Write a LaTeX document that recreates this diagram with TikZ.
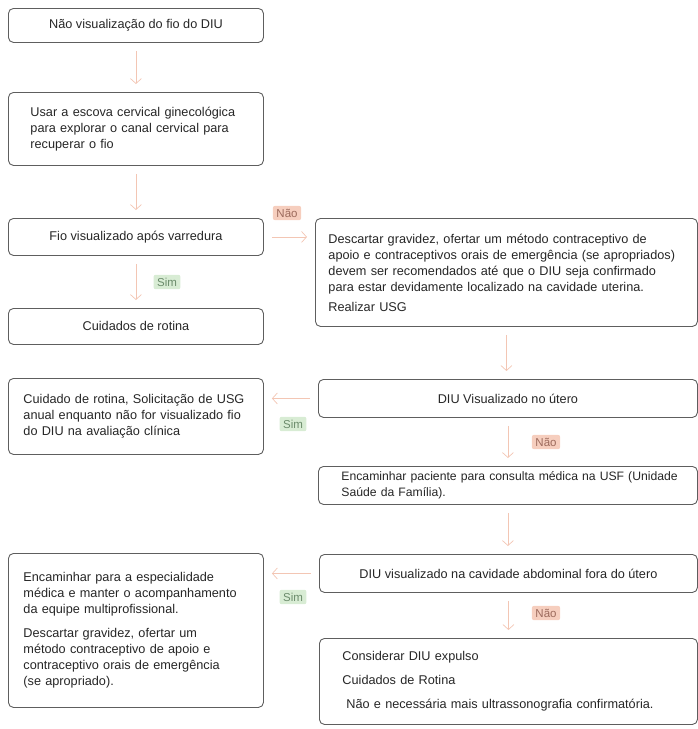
\documentclass[tikz,border=0pt]{standalone}
\usepackage{fontspec}
\setmainfont{Liberation Sans}
\usetikzlibrary{arrows.meta, calc, positioning}
\definecolor{boxc}{HTML}{5E5E5E}
\definecolor{textc}{HTML}{262626}
\definecolor{arrowc}{HTML}{F3C6B4}
\definecolor{naobg}{HTML}{F6CEBE}
\definecolor{naotx}{HTML}{9C6A5C}
\definecolor{simbg}{HTML}{D8ECD4}
\definecolor{simtx}{HTML}{6C8C6C}
\tikzset{
  box/.style={draw=boxc, line width=0.9pt, rounded corners=5pt, anchor=north west,
    text=textc, font=\fontsize{12.7}{16}\selectfont, inner ysep=4pt},
  cbox/.style={box, align=center},
  lbox/.style={box, align=left, inner xsep=4pt},
  arr/.style={draw=arrowc, line width=0.7pt, -{Straight Barb[length=5pt,width=11pt]},
    shorten <=8pt, shorten >=8pt},
  nao/.style={fill=naobg, text=naotx, rounded corners=2pt, inner xsep=3.5pt, inner ysep=3pt,
    font=\fontsize{11.5}{13}\selectfont},
  sim/.style={fill=simbg, text=simtx, rounded corners=2pt, inner xsep=3.5pt, inner ysep=3pt,
    font=\fontsize{11.5}{13}\selectfont}
}
\newcommand{\ind}[1]{\hspace*{#1pt}}
\begin{document}
\begin{tikzpicture}[x=1pt, y=-1pt]
\useasboundingbox (0,0) rectangle (698,729);

% left column
\node[cbox, minimum width=255pt, minimum height=34pt] (naofio) at (8,8)
  {N\~ao visualiza\c{c}\~ao do fio do DIU};
\node[lbox, minimum width=255pt, minimum height=73pt, text width=247pt] (escova) at (8,92)
  {\ind{18}Usar a escova cervical ginecol\'ogica\\\ind{18}para explorar o canal cervical para\\\ind{18}recuperar o fio};
\node[cbox, minimum width=255pt, minimum height=37pt] (varredura) at (8,218)
  {Fio visualizado ap\'os varredura};
\node[cbox, minimum width=255pt, minimum height=36pt] (rotina) at (8,308)
  {Cuidados de rotina};
\node[lbox, minimum width=255pt, minimum height=76pt, text width=247pt] (usganual) at (8,378)
  {\ind{11}Cuidado de rotina, Solicita\c{c}\~ao de USG\\\ind{11}anual enquanto n\~ao for visualizado fio\\\ind{11}do DIU na avalia\c{c}\~ao cl\'inica};
\node[lbox, minimum width=255pt, minimum height=154pt, text width=247pt] (especialidade) at (8,553)
  {\ind{11}Encaminhar para a especialidade\\\ind{11}m\'edica e manter o acompanhamento\\\ind{11}da equipe multiprofissional.\\[8pt]
   \ind{11}Descartar gravidez, ofertar um\\\ind{11}m\'etodo contraceptivo de apoio e\\\ind{11}contraceptivo orais de emerg\^encia\\\ind{11}(se apropriado).};

% right column
\node[lbox, minimum width=382pt, minimum height=108pt, text width=374pt] (descartar) at (315,218)
  {\ind{9}Descartar gravidez, ofertar um m\'etodo contraceptivo de\\\ind{9}apoio e contraceptivos orais de emerg\^encia (se apropriados)\\\ind{9}devem ser recomendados at\'e que o DIU seja confirmado\\\ind{9}para estar devidamente localizado na cavidade uterina.\\[4pt]
   \ind{9}Realizar USG};
\node[cbox, minimum width=379pt, minimum height=38pt] (utero) at (318,379)
  {DIU Visualizado no \'utero};
\node[lbox, minimum width=379pt, minimum height=38pt, text width=371pt,
      font=\fontsize{12.2}{16}\selectfont] (usf) at (318,466)
  {\ind{19}Encaminhar paciente para consulta m\'edica na USF (Unidade\\\ind{19}Sa\'ude da Fam\'ilia).};
\node[cbox, minimum width=378pt, minimum height=38pt] (abdominal) at (319,554)
  {DIU visualizado na cavidade abdominal fora do \'utero};
\node[lbox, minimum width=378pt, minimum height=86pt, text width=370pt] (expulso) at (319,638)
  {\ind{19}Considerar DIU expulso\\[8pt]\ind{19}Cuidados de Rotina\\[8pt]\ind{23}N\~ao e necess\'aria mais ultrassonografia confirmat\'oria.};

% connectors
\draw[arr] (naofio.south) -- (escova.north);
\draw[arr] (escova.south) -- (varredura.north);
\draw[arr] (varredura.south) -- (rotina.north);
\draw[arr] (varredura.east) -- (varredura.east -| descartar.west);
\draw[arr] (descartar.south) -- (descartar.south |- utero.north);
\draw[arr] (utero.west) -- (utero.west -| usganual.east);
\draw[arr] (utero.south) -- (utero.south |- usf.north);
\draw[arr] (usf.south) -- (usf.south |- abdominal.north);
\draw[arr] (abdominal.west) -- (abdominal.west -| especialidade.east);
\draw[arr] (abdominal.south) -- (abdominal.south |- expulso.north);

% labels
\node[nao] (nao1) at (287,213) {N\~ao};
\node[sim] (sim1) at (167,282) {Sim};
\node[sim] (sim2) at (293,424) {Sim};
\node[nao] (nao2) at (546,442) {N\~ao};
\node[sim] (sim3) at (293,597) {Sim};
\node[nao] (nao3) at (546,613) {N\~ao};
\end{tikzpicture}
\end{document}
